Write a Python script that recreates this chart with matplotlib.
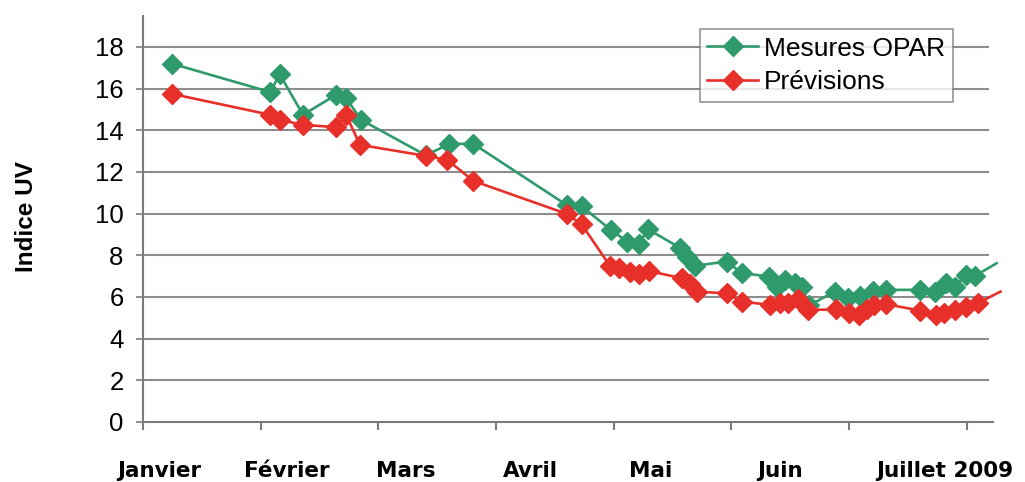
import matplotlib
matplotlib.use("Agg")
import matplotlib.pyplot as plt
from matplotlib.lines import Line2D

# Day offsets (days since the start of the period) and UV index values
opar_days = [7.3, 32.5, 34.8, 40.8, 49.2, 51.8, 55.6, 72.1, 78.1, 84.2,
             108.1, 111.8, 119.4, 123.4, 126.4, 128.7, 137.0, 138.6, 140.8,
             148.8, 152.6, 159.5, 161.5, 163.7, 166.2, 167.9, 169.8, 176.4,
             179.7, 182.8, 186.1, 189.5, 198.0, 202.0, 204.7, 206.9, 209.8,
             212.0, 217.6]
opar_uv = [17.2, 15.83, 16.7, 14.74, 15.7, 15.54, 14.5, 12.8, 13.35, 13.35,
           10.4, 10.35, 9.2, 8.66, 8.55, 9.25, 8.35, 7.9, 7.5,
           7.7, 7.15, 6.98, 6.5, 6.8, 6.66, 6.5, 5.6, 6.26,
           5.95, 6.05, 6.3, 6.34, 6.34, 6.26, 6.66, 6.5, 7.06,
           7.0, 7.62]

prev_days = [7.3, 32.5, 34.8, 40.8, 49.2, 51.8, 55.3, 72.1, 77.6, 84.2,
             108.0, 111.8, 119.0, 121.3, 124.2, 126.4, 128.9, 137.3, 139.5,
             141.2, 148.8, 152.6, 159.8, 162.4, 164.5, 167.0, 169.6, 176.7,
             180.0, 182.5, 184.6, 186.4, 189.5, 198.0, 202.2, 204.3, 206.9,
             209.8, 212.8, 218.6]
prev_uv = [15.75, 14.74, 14.5, 14.26, 14.15, 14.74, 13.3, 12.77, 12.58, 11.57,
           9.99, 9.49, 7.5, 7.38, 7.22, 7.09, 7.25, 6.9, 6.6,
           6.25, 6.18, 5.78, 5.62, 5.70, 5.72, 5.9, 5.38, 5.4,
           5.25, 5.15, 5.4, 5.6, 5.65, 5.35, 5.14, 5.22, 5.38,
           5.54, 5.7, 6.26]

month_labels = ["Janvier", "Février", "Mars", "Avril", "Mai", "Juin", "Juillet 2009"]
month_label_days = [4.1, 36.6, 66.9, 98.7, 129.5, 162.3, 204.4]
tick_days = [0, 30, 60, 90, 120, 150, 180, 210]
y_ticks = list(range(0, 20, 2))

GREEN = "#2f9a6c"
RED = "#e8302a"
GRID = "#8c8c8c"

fig = plt.figure(figsize=(10.25, 4.82), dpi=100)
ax = fig.add_axes([0.1395, 0.1245, 0.829, 0.843])

ax.set_xlim(0, 216.6)
ax.set_ylim(0, 19.5)

for y in y_ticks[1:]:
    ax.axhline(y, color=GRID, lw=1.5, zorder=1, xmax=0.995)

MS = 9.8
line_kw = dict(lw=1.9, marker="D", markersize=MS, markeredgewidth=1.0,
               clip_on=False, zorder=3)
ax.plot(opar_days, opar_uv, color=GREEN, markerfacecolor=GREEN,
        markeredgecolor=GREEN, markevery=list(range(len(opar_days) - 1)),
        **line_kw)
ax.plot(prev_days, prev_uv, color=RED, markerfacecolor=RED,
        markeredgecolor=RED, markevery=list(range(len(prev_days) - 1)),
        **line_kw)

for side in ("top", "right"):
    ax.spines[side].set_visible(False)
for side in ("left", "bottom"):
    ax.spines[side].set_color("#7a7a7a")
    ax.spines[side].set_linewidth(1.5)

ax.set_yticks(y_ticks)
ax.set_yticklabels([str(v) for v in y_ticks], fontsize=18.5,
                   family="Liberation Sans")
ax.tick_params(axis="y", direction="out", length=5, width=1.2,
               color="#7a7a7a", pad=9)
ax.set_xticks(tick_days)
ax.set_xticklabels([])
ax.tick_params(axis="x", direction="out", length=6, width=1.5,
               color="#7a7a7a")

for lab, d in zip(month_labels, month_label_days):
    ax.text(d, -0.12, lab, transform=ax.get_xaxis_transform(),
            ha="center", va="center", fontsize=15.5, fontweight="bold",
            family="Liberation Sans Narrow", clip_on=False)

fig.text(0.026, 0.55, "Indice UV", rotation=90, ha="center", va="center",
         fontsize=17.5, fontweight="bold", family="Liberation Sans")

handles = [
    Line2D([], [], color=GREEN, lw=1.9, marker="D", markersize=MS,
           markerfacecolor=GREEN, markeredgecolor=GREEN),
    Line2D([], [], color=RED, lw=1.9, marker="D", markersize=MS,
           markerfacecolor=RED, markeredgecolor=RED),
]
leg = ax.legend(handles, ["Mesures OPAR", "Prévisions"],
                loc="upper left", bbox_to_anchor=(0.655, 0.968),
                prop={"family": "Liberation Sans", "size": 19},
                frameon=True, fancybox=False, handlelength=1.9,
                handletextpad=0.25, borderpad=0.3, labelspacing=0.35,
                borderaxespad=0)
leg.get_frame().set_edgecolor("#7a7a7a")
leg.get_frame().set_linewidth(1.2)
leg.set_zorder(5)

fig.savefig("out.png", dpi=100, facecolor="white")
